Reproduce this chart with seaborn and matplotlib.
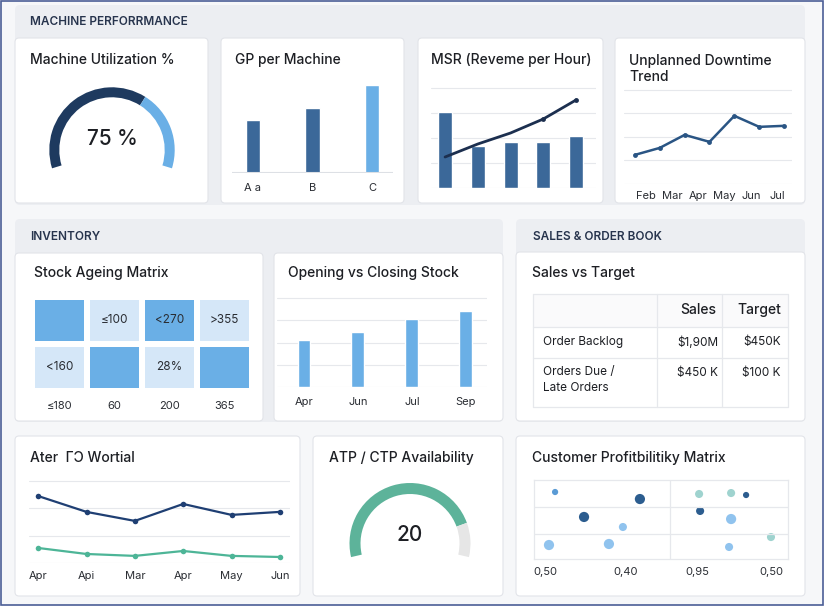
import numpy as np
import pandas as pd
import matplotlib
matplotlib.use("Agg")
import matplotlib.pyplot as plt
import seaborn as sns
from matplotlib.patches import FancyBboxPatch, Wedge, Rectangle
from matplotlib.colors import ListedColormap

# ---- data ----
util_label = "75 %"
util_fill = 0.65

machines = ["A a", "B", "C"]
gp_values = [53, 65, 88]

msr_bars = [76, 42, 46, 46, 52]
msr_line = [31, 44, 55, 69, 88]

downtime_months = ["Feb", "Mar", "Apr", "May", "Jun", "Jul"]
downtime_values = [30.9, 38.3, 52.1, 44.7, 72.3, 60.6, 61.7]

ageing_level = [[1, 0, 1, 0], [0, 1, 0, 1]]
ageing_text = [["", "≤100", "<270", ">355"], ["<160", "", "28%", ""]]
ageing_cols = ["≤180", "60", "200", "365"]

stock_months = ["Apr", "Jun", "Jul", "Sep"]
stock_values = [52.8, 61.8, 76.4, 85.4]

table_rows = ["Order Backlog", "Orders Due /\nLate Orders"]
table_sales = ["$1,90M", "$450 K"]
table_target = ["$450K", "$100 K"]

trend_months = ["Apr", "Api", "Mar", "Apr", "May", "Jun"]
trend_navy = [24.5, 18.7, 15.4, 21.6, 17.6, 18.7]
trend_green = [5.5, 3.3, 2.6, 4.4, 2.6, 2.2]

atp_label = "20"
atp_fill = 0.84

cust_x = [8.3, 41.7, 19.7, 35.0, 5.9, 29.5, 65.0, 77.6, 83.5, 65.4, 77.6, 93.3, 76.8]
cust_y = [84.8, 75.9, 53.2, 40.5, 17.7, 19.0, 82.3, 83.5, 81.0, 60.8, 50.6, 27.8, 15.2]
cust_seg = ["mid", "navy", "navy", "light", "light", "light", "teal", "teal", "navy", "navy", "light", "teal", "light"]
cust_size = ["S", "L", "L", "M", "L", "L", "M", "M", "S", "M", "L", "M", "M"]
cust_ticks = ["0,50", "0,40", "0,95", "0,50"]

# ---- style ----
NAVY = "#1e3a5f"
BAR = "#3b6899"
LIGHT = "#6aafe6"
PALE = "#d5e7f8"
GREEN = "#5db39a"
GRID = "#e6e8ec"
TXT = "#1d1f24"

sns.set_theme(style="white")
plt.rcParams["font.family"] = ["Inter", "DejaVu Sans"]

W, H = 828, 608
fig = plt.figure(figsize=(8.28, 6.08), dpi=100)
fig.patch.set_facecolor("white")
bg = fig.add_axes([0, 0, 1, 1])
bg.set_xlim(0, W)
bg.set_ylim(H, 0)
bg.axis("off")


def px_box(x0, y0, x1, y1):
    return [x0 / W, 1 - y1 / H, (x1 - x0) / W, (y1 - y0) / H]


def panel(x0, y0, x1, y1, fc, ec="none", r=5):
    bg.add_patch(FancyBboxPatch((x0, y0), x1 - x0, y1 - y0,
                                boxstyle=f"round,pad=0,rounding_size={r}",
                                fc=fc, ec=ec, lw=0.8))


def new_ax(x0, y0, x1, y1):
    ax = fig.add_axes(px_box(x0, y0, x1, y1))
    ax.patch.set_alpha(0)
    return ax


# frame and panels
bg.add_patch(Rectangle((1, 1), 822, 604, fc="#f6f7f9", ec="#4b5e96", lw=1.2))
panel(15, 5, 805, 205, "#eceef2")
panel(15, 219, 503, 422, "#eceef2")
panel(516, 219, 805, 422, "#eceef2")
for box in [(15, 38, 208, 203), (221, 38, 404, 203), (418, 38, 603, 203), (615, 38, 805, 203),
            (15, 253, 263, 421), (274, 253, 503, 421), (516, 252, 805, 421),
            (15, 436, 300, 596), (313, 436, 503, 596), (516, 436, 805, 596)]:
    panel(*box, "white", ec="#e2e4e9", r=4)

hdr = dict(fontsize=8.5, fontweight="semibold", color="#27344d", va="center")
bg.text(30, 22, "MACHINE PERFORRMANCE", **hdr)
bg.text(30, 237, "INVENTORY", **hdr)
bg.text(533, 237, "SALES & ORDER BOOK", **hdr)

ttl = dict(fontsize=10, fontweight="medium", color=TXT, va="center")
bg.text(30, 60, "Machine Utilization %", **ttl)
bg.text(235, 60, "GP per Machine", **ttl)
bg.text(431, 60, "MSR (Reveme per Hour)", **ttl)
bg.text(629, 69, "Unplanned Downtime\nTrend", linespacing=1.2, **ttl)
bg.text(34, 273, "Stock Ageing Matrix", **ttl)
bg.text(288, 273, "Opening vs Closing Stock", **ttl)
bg.text(532, 273, "Sales vs Target", **ttl)
bg.text(30, 458, "Ater  ΓƆ Wortial", **ttl)
bg.text(329, 458, "ATP / CTP Availability", **ttl)
bg.text(532, 458, "Customer Profitbilitiky Matrix", **ttl)


# ---- gauges ----
def gauge(cx, cy, r, width, start, end, fill, c_on, c_off, label, dy):
    ax = new_ax(cx - 75, cy - 75, cx + 75, cy + 75)
    ax.set_xlim(-75, 75)
    ax.set_ylim(-75, 75)
    ax.axis("off")
    split = start - fill * (start - end)
    ax.add_patch(Wedge((0, 0), r, split, start, width=width, fc=c_on, ec="none"))
    ax.add_patch(Wedge((0, 0), r, end, split, width=width, fc=c_off, ec="none"))
    ax.text(0, dy, label, ha="center", va="center", fontsize=15,
            fontweight="medium", color=TXT)


gauge(112, 150, 62.7, 10, 197, -17, util_fill, NAVY, LIGHT, util_label, 11)
gauge(410, 543.5, 60.5, 11, 193, -13, atp_fill, GREEN, "#e6e6e6", atp_label, 8.5)

tick_kw = dict(length=0, labelsize=8, labelcolor="#2a2d33")

# ---- GP per Machine ----
ax = new_ax(232, 80, 393, 173)
sns.barplot(x=machines, y=gp_values, hue=machines, palette=[BAR, BAR, LIGHT],
            width=0.235, saturation=1, legend=False, ax=ax)
ax.set_xlim(-0.35, 2.35)
ax.set_ylim(0, 93)
ax.axhline(0, color="#dde0e5", lw=1.5)
ax.set_yticks([])
ax.tick_params(axis="x", pad=7, **tick_kw)
sns.despine(ax=ax, left=True, bottom=True)

# ---- MSR ----
ax = new_ax(431, 80, 596, 188)
pos = np.arange(len(msr_bars))
sns.barplot(x=pos, y=msr_bars, color=BAR, width=0.43, saturation=1, ax=ax, native_scale=True)
sns.lineplot(x=pos, y=msr_line, color="#1c2f4f", lw=2, ax=ax,
             marker="o", markersize=3.5, markevery=[3, 4], markeredgewidth=0)
ax.set_xlim(-0.43, 4.61)
ax.set_ylim(0, 108)
ax.set_yticks([0, 25, 50, 75, 100])
ax.grid(axis="y", color=GRID, lw=0.8)
ax.set_axisbelow(True)
ax.set_xticks([])
ax.set_yticklabels([])
ax.tick_params(length=0)
sns.despine(ax=ax, left=True, bottom=True)

# ---- Unplanned downtime ----
ax = new_ax(624, 85, 792, 184)
sns.lineplot(x=np.arange(len(downtime_values)), y=downtime_values, color="#2a5584",
             lw=1.8, marker="o", markersize=3.5, markeredgewidth=0, ax=ax)
ax.set_xlim(-0.44, 6.32)
ax.set_ylim(0, 105)
ax.set_yticks([0, 25, 50, 75, 100])
ax.set_yticklabels([])
ax.grid(axis="y", color=GRID, lw=0.8)
ax.set_xticks(np.linspace(0.44, 5.73, len(downtime_months)))
ax.set_xticklabels(downtime_months)
ax.tick_params(axis="x", pad=5, **tick_kw)
ax.tick_params(axis="y", length=0)
sns.despine(ax=ax, left=True, bottom=True)

# ---- Stock ageing heatmap ----
ax = new_ax(32, 297, 252, 391)
sns.heatmap(np.array(ageing_level), annot=np.array(ageing_text), fmt="",
            cmap=ListedColormap([PALE, LIGHT]), linewidths=3, linecolor="white",
            cbar=False, xticklabels=ageing_cols, yticklabels=False,
            annot_kws={"fontsize": 8.5, "color": "#2a2d33"}, ax=ax)
ax.tick_params(axis="x", pad=7, rotation=0, **tick_kw)

# ---- Opening vs closing ----
ax = new_ax(277, 290, 487, 387)
sns.barplot(x=stock_months, y=stock_values, color=LIGHT, width=0.24, saturation=1, ax=ax)
ax.set_xlim(-0.5, 3.39)
ax.set_ylim(0, 109)
ax.set_yticks([0, 25, 50, 75, 100])
ax.set_yticklabels([])
ax.grid(axis="y", color=GRID, lw=0.8)
ax.set_axisbelow(True)
ax.set_xlabel("")
ax.tick_params(axis="x", pad=7, **tick_kw)
ax.tick_params(axis="y", length=0)
sns.despine(ax=ax, left=True, bottom=True)

# ---- Sales vs target table ----
col_x = [533, 657, 722, 788]
row_y = [294, 327, 358, 407]
bg.add_patch(Rectangle((col_x[0], row_y[0]), col_x[-1] - col_x[0], row_y[1] - row_y[0],
                       fc="#fafafb", ec="none"))
for yy in row_y:
    bg.plot([col_x[0], col_x[-1]], [yy, yy], color=GRID, lw=0.9)
for xx in col_x:
    bg.plot([xx, xx], [row_y[0], row_y[-1]], color=GRID, lw=0.9)
bg.text(716, 310, "Sales", ha="right", va="center", fontsize=10, fontweight="medium", color=TXT)
bg.text(781, 310, "Target", ha="right", va="center", fontsize=10, fontweight="medium", color=TXT)
for i, (lab, s, t) in enumerate(zip(table_rows, table_sales, table_target)):
    y_top = row_y[i + 1]
    if "\n" in lab:
        bg.text(543, y_top + 8, lab, ha="left", va="top", fontsize=8.5, color=TXT, linespacing=1.45)
        yv = y_top + 15
    else:
        yv = (row_y[i + 1] + row_y[i + 2]) / 2
        bg.text(543, yv, lab, ha="left", va="center", fontsize=8.5, color=TXT)
    bg.text(718, yv, s, ha="right", va="center", fontsize=8.5, color=TXT)
    bg.text(781, yv, t, ha="right", va="center", fontsize=8.5, color=TXT)

# ---- bottom trend lines ----
ax = new_ax(29, 475, 290, 563)
xs = np.arange(len(trend_months))
sns.lineplot(x=xs, y=trend_navy, color="#1f3f73", lw=1.6, marker="o",
             markersize=4, markeredgewidth=0, ax=ax)
sns.lineplot(x=xs, y=trend_green, color="#4db597", lw=1.6, marker="o",
             markersize=4, markeredgewidth=0, ax=ax)
ax.set_xlim(-0.19, 5.21)
ax.set_ylim(0, 32.2)
ax.set_yticks([0, 10, 20, 30])
ax.set_yticklabels([])
ax.grid(axis="y", color=GRID, lw=0.8)
ax.set_xticks(xs)
ax.set_xticklabels(trend_months)
ax.tick_params(axis="x", pad=6, **tick_kw)
ax.tick_params(axis="y", length=0)
sns.despine(ax=ax, left=True, bottom=True)

# ---- customer profitability scatter ----
ax = new_ax(534, 480, 788, 559)
cust = pd.DataFrame({"x": cust_x, "y": cust_y, "seg": cust_seg, "size": cust_size})
sns.scatterplot(data=cust, x="x", y="y", hue="seg", size="size",
                palette={"navy": "#2c5d8f", "mid": "#5a9bd5", "light": "#90c3ee", "teal": "#9fd3cf"},
                sizes={"S": 20, "M": 34, "L": 54}, edgecolor="none", legend=False, ax=ax)
ax.set_xlim(0, 100)
ax.set_ylim(0, 100)
ax.axvline(53.5, color=GRID, lw=0.9)
ax.axhline(65.8, color=GRID, lw=0.9)
ax.axhline(31.6, color=GRID, lw=0.9)
for sp in ax.spines.values():
    sp.set_color(GRID)
    sp.set_linewidth(0.9)
ax.set_xticks([4.3, 36.2, 64.2, 93.3])
ax.set_xticklabels(cust_ticks)
ax.set_yticks([])
ax.set_xlabel("")
ax.set_ylabel("")
ax.tick_params(axis="x", pad=6, **tick_kw)

fig.savefig("out.png", dpi=100)
